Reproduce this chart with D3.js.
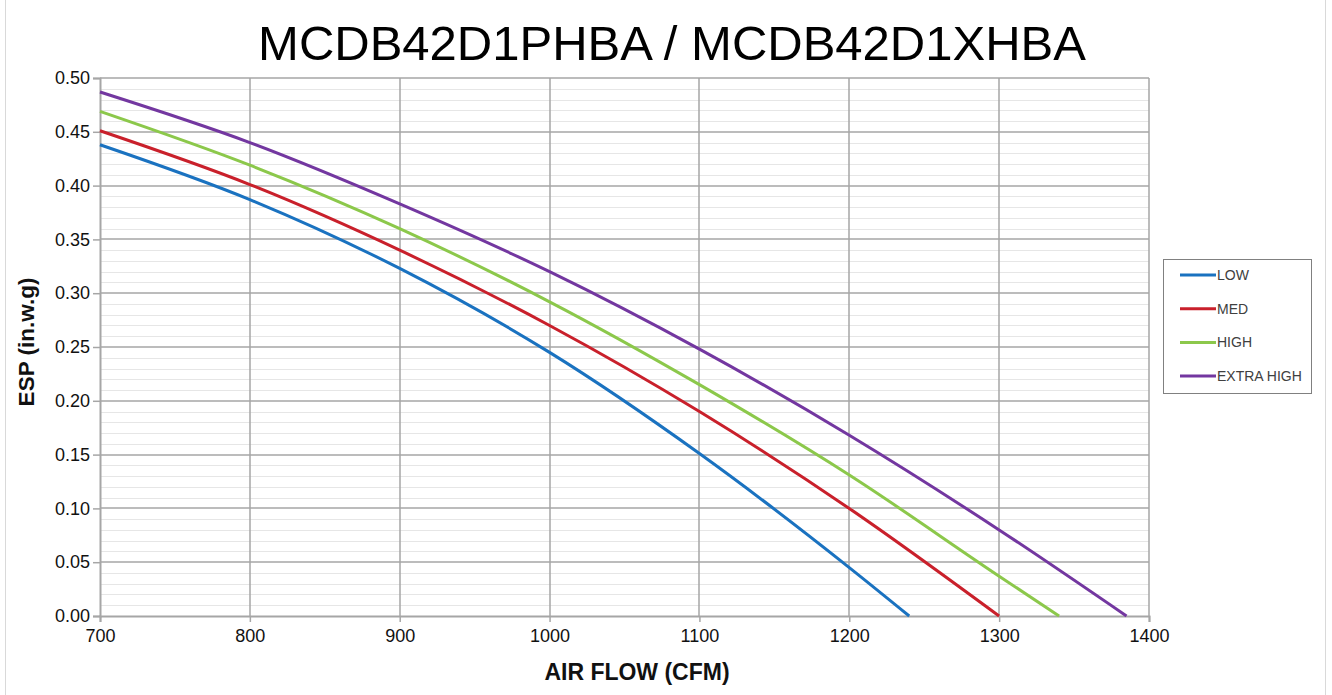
<!DOCTYPE html>
<html>
<head>
<meta charset="utf-8">
<script src="https://cdn.jsdelivr.net/npm/d3@7"></script>
<style>
  body { margin: 0; background: #fff; }
  text { font-family: "Liberation Sans", Arial, sans-serif; }
</style>
</head>
<body>
<div id="chart"></div>
<script>
var svgWidth = 1332;
var svgHeight = 695;

var margin = { top: 78, right: 183, bottom: 79, left: 100 };
var width = svgWidth - margin.left - margin.right;
var height = svgHeight - margin.top - margin.bottom;

// data
var seriesNames = ["LOW", "MED", "HIGH", "EXTRA HIGH"];
var seriesColors = ["#1a72c0", "#c9202b", "#8cc84b", "#7337a0"];
var lowFlow = [700, 800, 900, 1000, 1100, 1200, 1240];
var lowEsp = [0.438, 0.387, 0.323, 0.245, 0.151, 0.045, 0.0];
var medFlow = [700, 800, 900, 1000, 1100, 1200, 1300];
var medEsp = [0.451, 0.401, 0.340, 0.270, 0.190, 0.100, 0.0];
var highFlow = [700, 800, 900, 1000, 1100, 1200, 1300, 1340];
var highEsp = [0.469, 0.419, 0.360, 0.292, 0.215, 0.131, 0.037, 0.0];
var xhighFlow = [700, 800, 900, 1000, 1100, 1200, 1300, 1385];
var xhighEsp = [0.487, 0.440, 0.383, 0.320, 0.248, 0.168, 0.080, 0.0];
var xTicks = [700, 800, 900, 1000, 1100, 1200, 1300, 1400];
var yTicks = [0, 0.05, 0.10, 0.15, 0.20, 0.25, 0.30, 0.35, 0.40, 0.45, 0.50];

var series = [
  { name: seriesNames[0], color: seriesColors[0], flow: lowFlow, esp: lowEsp },
  { name: seriesNames[1], color: seriesColors[1], flow: medFlow, esp: medEsp },
  { name: seriesNames[2], color: seriesColors[2], flow: highFlow, esp: highEsp },
  { name: seriesNames[3], color: seriesColors[3], flow: xhighFlow, esp: xhighEsp }
];

var svg = d3.select("#chart")
  .append("svg")
  .attr("width", svgWidth)
  .attr("height", svgHeight);

// outer frame
svg.append("rect")
  .attr("x", 5.5).attr("y", -1)
  .attr("width", 1320).attr("height", svgHeight + 2)
  .attr("fill", "none")
  .attr("stroke", "#d9d9d9");

var chartGroup = svg.append("g")
  .attr("transform", `translate(${margin.left}, ${margin.top})`);

var xScale = d3.scaleLinear().domain([700, 1400]).range([0, width]);
var yScale = d3.scaleLinear().domain([0, 0.5]).range([height, 0]);

// minor gridlines every 0.01
var minor = d3.range(0, 51).map(d => d / 100).filter(d => Math.round(d * 100) % 5 !== 0);
chartGroup.selectAll(".minor")
  .data(minor)
  .enter()
  .append("line")
  .attr("x1", 0).attr("x2", width)
  .attr("y1", d => Math.round(yScale(d)) + 0.5)
  .attr("y2", d => Math.round(yScale(d)) + 0.5)
  .attr("stroke", "#e6e6e6")
  .attr("stroke-width", 1);

// major gridlines
chartGroup.selectAll(".hgrid")
  .data(yTicks.slice(1))
  .enter()
  .append("line")
  .attr("x1", 0).attr("x2", width)
  .attr("y1", d => Math.round(yScale(d)))
  .attr("y2", d => Math.round(yScale(d)))
  .attr("stroke", "#a6a6a6")
  .attr("stroke-width", 1.5);

chartGroup.selectAll(".vgrid")
  .data(xTicks.slice(1))
  .enter()
  .append("line")
  .attr("y1", 0).attr("y2", height)
  .attr("x1", d => Math.round(xScale(d)))
  .attr("x2", d => Math.round(xScale(d)))
  .attr("stroke", "#a6a6a6")
  .attr("stroke-width", 1.5);

// axes
var bottomAxis = d3.axisBottom(xScale).tickValues(xTicks).tickSize(6).tickPadding(7).tickFormat(d3.format("d"));
var leftAxis = d3.axisLeft(yScale).tickValues(yTicks).tickSize(7).tickPadding(3).tickFormat(d3.format(".2f"));

var xAxis = chartGroup.append("g")
  .attr("transform", `translate(0, ${height})`)
  .call(bottomAxis);
var yAxis = chartGroup.append("g")
  .call(leftAxis);

[xAxis, yAxis].forEach(function(ax) {
  ax.select(".domain").attr("stroke", "#a6a6a6").attr("stroke-width", 2);
  ax.selectAll(".tick line").attr("stroke", "#a6a6a6").attr("stroke-width", 1.5);
  ax.selectAll(".tick text")
    .attr("fill", "#111")
    .style("font-size", "18px")
    .style("font-family", "'Liberation Sans', Arial, sans-serif");
});

// curves
var line = d3.line()
  .x(d => xScale(d[0]))
  .y(d => yScale(d[1]))
  .curve(d3.curveMonotoneX);

chartGroup.selectAll(".series")
  .data(series)
  .enter()
  .append("path")
  .attr("d", s => line(s.flow.map((f, i) => [f, s.esp[i]])))
  .attr("fill", "none")
  .attr("stroke", s => s.color)
  .attr("stroke-width", 3);

// title
svg.append("text")
  .attr("x", 672)
  .attr("y", 60)
  .attr("text-anchor", "middle")
  .style("font-size", "49px")
  .attr("fill", "#000")
  .text("MCDB42D1PHBA / MCDB42D1XHBA");

// axis titles
svg.append("text")
  .attr("x", 637)
  .attr("y", 680)
  .attr("text-anchor", "middle")
  .style("font-size", "23px")
  .style("font-weight", "bold")
  .attr("fill", "#111")
  .text("AIR FLOW (CFM)");

svg.append("text")
  .attr("transform", "translate(34, 342) rotate(-90)")
  .attr("text-anchor", "middle")
  .style("font-size", "22.5px")
  .style("font-weight", "bold")
  .attr("fill", "#111")
  .text("ESP (in.w.g)");

// legend
var legend = svg.append("g").attr("transform", "translate(1163, 259)");
legend.append("rect")
  .attr("x", 0.5).attr("y", 0.5)
  .attr("width", 148).attr("height", 134)
  .attr("fill", "#fff")
  .attr("stroke", "#808080");

var items = legend.selectAll(".item")
  .data(series)
  .enter()
  .append("g")
  .attr("transform", (d, i) => `translate(0, ${16 + i * 33.7})`);
items.append("line")
  .attr("x1", 17).attr("x2", 53)
  .attr("y1", 0).attr("y2", 0)
  .attr("stroke", d => d.color)
  .attr("stroke-width", 3);
items.append("text")
  .attr("x", 54).attr("y", 5)
  .style("font-size", "14px")
  .attr("fill", "#404040")
  .text(d => d.name);
</script>
</body>
</html>
